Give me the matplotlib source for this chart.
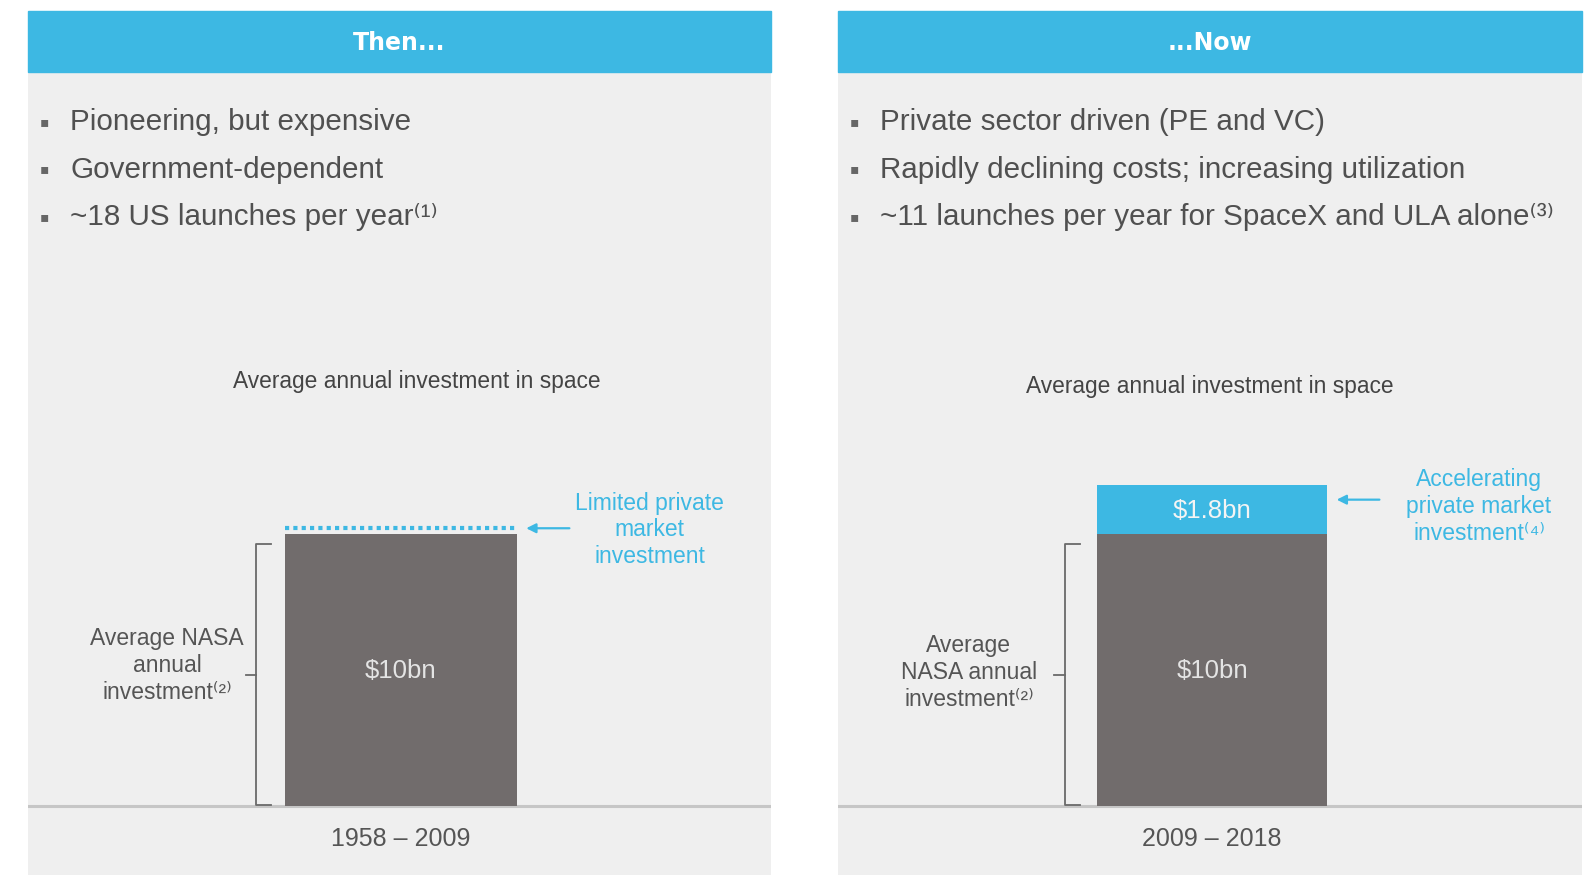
import matplotlib.pyplot as plt
from matplotlib.patches import Rectangle

# --- data -------------------------------------------------------------------
headers = ['Then...', '...Now']
periods = ['1958 – 2009', '2009 – 2018']
nasa_bn = [10, 10]
private_bn = [0.2, 1.8]          # "then" value is only a thin sliver in the source
nasa_labels = ['$10bn', '$10bn']
private_labels = [None, '$1.8bn']
bullets = [
    ['Pioneering, but expensive',
     'Government-dependent',
     '~18 US launches per year⁽¹⁾'],
    ['Private sector driven (PE and VC)',
     'Rapidly declining costs; increasing utilization',
     '~11 launches per year for SpaceX and ULA alone⁽³⁾'],
]
nasa_text = ['Average NASA\nannual\ninvestment⁽²⁾', 'Average\nNASA annual\ninvestment⁽²⁾']
private_text = ['Limited private\nmarket\ninvestment', 'Accelerating\nprivate market\ninvestment⁽⁴⁾']
subtitle = 'Average annual investment in space'

# --- style ------------------------------------------------------------------
CYAN = '#3db8e3'
BAR_GRAY = '#716c6c'
PANEL_BG = '#efefef'
TEXT = '#505050'
FONT = ['Liberation Sans', 'DejaVu Sans']
plt.rcParams['font.family'] = FONT

W, H = 1588, 875
fig = plt.figure(figsize=(W / 100, H / 100), dpi=100)
fig.patch.set_facecolor('white')

def fx(x):
    return x / W

def fy(y):
    return 1 - y / H

# panel geometry in pixels: (left, right, bar centre, bar width)
panels = [(28, 771, 400.5, 232), (838, 1582, 1212, 230)]
HEAD_TOP, HEAD_BOT = 11, 72
BASE_Y, SCALE = 806, 27.23        # baseline pixel row, pixels per $bn

for i, (l, r, cx, bw) in enumerate(panels):
    # header bar
    fig.patches.append(Rectangle((fx(l), fy(HEAD_BOT)), fx(r - l), (HEAD_BOT - HEAD_TOP) / H,
                                 transform=fig.transFigure, color=CYAN, zorder=0))
    fig.text(fx((l + r) / 2), fy(43), headers[i], color='white', fontsize=17,
             fontweight='bold', ha='center', va='center', family='DejaVu Sans')

    ax = fig.add_axes([fx(l), fy(H), fx(r - l), (H - HEAD_BOT) / H])
    ax.set_facecolor(PANEL_BG)
    ax.set_xlim(-(cx - l) / bw, (r - cx) / bw)
    ax.set_ylim(-(H - BASE_Y) / SCALE, (BASE_Y - HEAD_BOT) / SCALE)
    for s in ax.spines.values():
        s.set_visible(False)
    ax.set_xticks([])
    ax.set_yticks([])

    # bullets
    for j, b in enumerate(bullets[i]):
        yb = fy(122 + j * 47.5)
        fig.text(fx(l + 16), yb, '▪', color='#666666', fontsize=10, ha='center',
                 va='center', family='DejaVu Sans')
        fig.text(fx(l + 42), yb, b, color=TEXT, fontsize=21.3, ha='left', va='center')

    top = nasa_bn[i] + private_bn[i]
    ax.text(0.07 if i == 0 else -0.01, 15.6 if i == 0 else 15.4, subtitle, color='#444444',
            fontsize=16.4, ha='center', va='center')

    # bars
    ax.bar(0, nasa_bn[i], width=1, color=BAR_GRAY, zorder=2)
    if private_labels[i] is None:
        ax.hlines(top, -0.5, 0.5, color=CYAN, linestyle=(0, (1, 1)), lw=3, zorder=3)
    else:
        ax.bar(0, private_bn[i], bottom=nasa_bn[i], width=1, color=CYAN, zorder=2)
        ax.text(0, nasa_bn[i] + private_bn[i] / 2 - 0.05, private_labels[i], color='#f4f4f4',
                fontsize=18.5, ha='center', va='center')
    ax.text(0, nasa_bn[i] / 2 - 0.05, nasa_labels[i], color='#e4e4e4', fontsize=18.5,
            ha='center', va='center')

    # baseline + period label
    ax.axhline(0, color='#c6c6c6', lw=2.2, zorder=1)
    ax.text(0, -1.2, periods[i], color='#555555', fontsize=18, ha='center', va='center')

    # bracket around NASA part
    bx = -0.623 if i == 0 else -0.64
    btop = nasa_bn[i] - 0.38
    bmid = btop / 2
    ax.plot([bx + 0.065, bx, bx, bx + 0.065], [btop, btop, 0.02, 0.02],
            color='#6a6a6a', lw=1.3, solid_joinstyle='round')
    ax.plot([bx - 0.045, bx], [bmid, bmid], color='#6a6a6a', lw=1.3)
    ax.text(-1.006 if i == 0 else -1.057, bmid + (0.35 if i == 0 else 0.1), nasa_text[i],
            color='#555555', fontsize=16.5, ha='center', va='center', linespacing=1.22)

    # arrow + private annotation
    ay = top if i == 0 else top - 0.55
    ax.annotate('', xy=(0.53, ay), xytext=(0.74, ay),
                arrowprops=dict(arrowstyle='-|>', color=CYAN, lw=1.6, mutation_scale=14))
    ax.text(1.075 if i == 0 else 1.161, ay - 0.05 if i == 0 else ay - 0.25, private_text[i],
            color=CYAN, fontsize=16.5, ha='center', va='center', linespacing=1.2)

fig.savefig('out.png', dpi=100, facecolor=fig.get_facecolor())
